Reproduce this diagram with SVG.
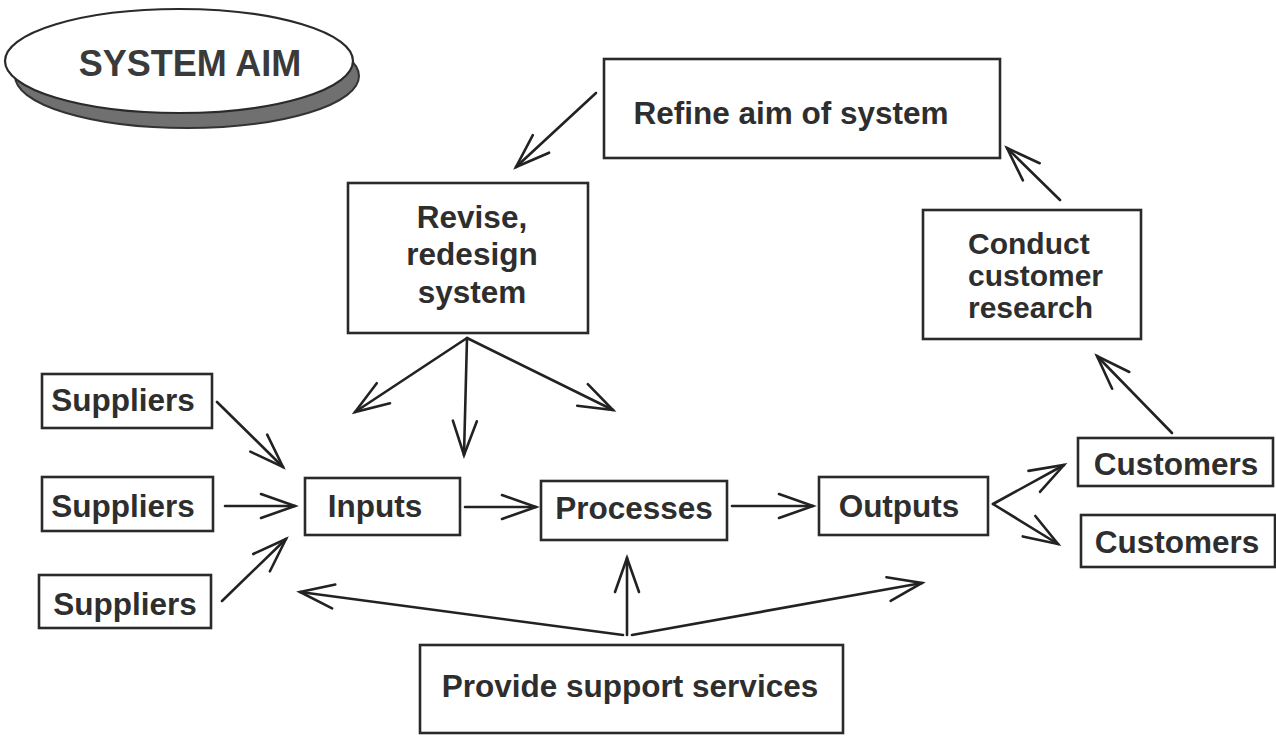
<svg xmlns="http://www.w3.org/2000/svg" width="1276" height="736" viewBox="0 0 1276 736">
<defs>
<style>
.box{fill:#fff;stroke:#2a2a2a;stroke-width:2.6}
.t{font-family:"Liberation Sans",Arial,Helvetica,sans-serif;font-weight:bold;font-size:31.5px;fill:#2e2e2e}
.m{text-anchor:middle}
.c{fill:none;stroke:#222;stroke-width:2.6;stroke-linecap:round}
</style>
<marker id="ah" markerUnits="userSpaceOnUse" viewBox="-40 -20 44 40" markerWidth="44" markerHeight="40" refX="0" refY="0" orient="auto">
<path d="M-34,-12 L0,0 L-34,12" fill="none" stroke="#222" stroke-width="2.6" stroke-linecap="round" stroke-linejoin="miter"/>
</marker>
</defs>
<rect width="1276" height="736" fill="#fff"/>

<g id="system-aim">
<ellipse cx="187" cy="76" rx="172" ry="52" fill="#707070" stroke="#333" stroke-width="2"/>
<ellipse cx="179" cy="61" rx="174" ry="52" fill="#fff" stroke="#2a2a2a" stroke-width="2.2"/>
<text class="t m" x="190" y="76" style="font-size:36px;fill:#3a3a3a">SYSTEM AIM</text>
</g>

<g id="refine">
<rect class="box" x="604" y="59" width="396" height="99"/>
<text class="t m" x="791" y="124">Refine aim of system</text>
</g>

<g id="revise">
<rect class="box" x="348" y="183" width="240" height="150"/>
<text class="t m" x="472" y="228">Revise,</text>
<text class="t m" x="472" y="265">redesign</text>
<text class="t m" x="472" y="303">system</text>
</g>

<g id="conduct">
<rect class="box" x="923" y="210" width="218" height="129"/>
<text class="t" x="968" y="254" style="font-size:30px">Conduct</text>
<text class="t" x="968" y="286" style="font-size:30px">customer</text>
<text class="t" x="968" y="318" style="font-size:30px">research</text>
</g>

<g id="suppliers-1">
<rect class="box" x="42" y="374" width="170" height="54"/>
<text class="t m" x="123" y="411">Suppliers</text>
</g>
<g id="suppliers-2">
<rect class="box" x="42" y="477" width="171" height="54"/>
<text class="t m" x="123" y="517">Suppliers</text>
</g>
<g id="suppliers-3">
<rect class="box" x="39" y="575" width="172" height="53"/>
<text class="t m" x="125" y="615">Suppliers</text>
</g>

<g id="inputs">
<rect class="box" x="305" y="478" width="155" height="57"/>
<text class="t m" x="375" y="517">Inputs</text>
</g>
<g id="processes">
<rect class="box" x="541" y="481" width="186" height="59"/>
<text class="t m" x="634" y="519">Processes</text>
</g>
<g id="outputs">
<rect class="box" x="819" y="477" width="169" height="58"/>
<text class="t m" x="899" y="517">Outputs</text>
</g>

<g id="customers-1">
<rect class="box" x="1078" y="438" width="195" height="48"/>
<text class="t m" x="1176" y="475">Customers</text>
</g>
<g id="customers-2">
<rect class="box" x="1081" y="515" width="194" height="52"/>
<text class="t m" x="1177" y="553">Customers</text>
</g>

<g id="support">
<rect class="box" x="420" y="645" width="423" height="88"/>
<text class="t m" x="630" y="697">Provide support services</text>
</g>

<g id="connectors">
<line class="c" x1="596" y1="93" x2="516" y2="167" marker-end="url(#ah)"/>
<line class="c" x1="467" y1="338" x2="355" y2="412" marker-end="url(#ah)"/>
<line class="c" x1="467" y1="338" x2="464" y2="455" marker-end="url(#ah)"/>
<line class="c" x1="467" y1="338" x2="613" y2="410" marker-end="url(#ah)"/>
<line class="c" x1="217" y1="402" x2="283" y2="467" marker-end="url(#ah)"/>
<line class="c" x1="225" y1="506" x2="295" y2="506" marker-end="url(#ah)"/>
<line class="c" x1="222" y1="601" x2="286" y2="539" marker-end="url(#ah)"/>
<line class="c" x1="465" y1="507" x2="536" y2="507" marker-end="url(#ah)"/>
<line class="c" x1="732" y1="506" x2="813" y2="506" marker-end="url(#ah)"/>
<line class="c" x1="993" y1="504" x2="1064" y2="465" marker-end="url(#ah)"/>
<line class="c" x1="993" y1="504" x2="1058" y2="544" marker-end="url(#ah)"/>
<line class="c" x1="1172" y1="433" x2="1097" y2="356" marker-end="url(#ah)"/>
<line class="c" x1="1060" y1="200" x2="1007" y2="148" marker-end="url(#ah)"/>
<line class="c" x1="623" y1="635" x2="300" y2="592" marker-end="url(#ah)"/>
<line class="c" x1="627" y1="635" x2="627" y2="558" marker-end="url(#ah)"/>
<line class="c" x1="632" y1="635" x2="922" y2="583" marker-end="url(#ah)"/>
</g>
</svg>
